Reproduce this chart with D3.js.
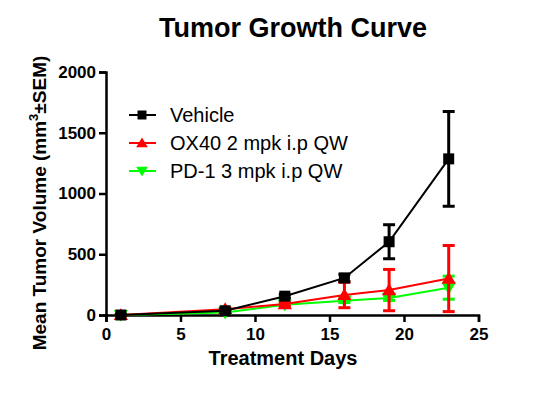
<!DOCTYPE html>
<html>
<head>
<meta charset="utf-8">
<script src="https://cdn.jsdelivr.net/npm/d3@7"></script>
<style>
  body { margin: 0; background: #fff; }
  svg { font-family: "Liberation Sans", Arial, sans-serif; }
</style>
</head>
<body>
<svg id="chart" width="539" height="415"></svg>
<script>
// data
var days = [1, 8, 12, 16, 19, 23]
var vehicleMean = [0, 35, 155, 305, 603, 1285]
var vehicleSem = [5, 12, 15, 30, 140, 390]
var ox40Mean = [0, 48, 90, 165, 205, 300]
var ox40Sem = [3, 10, 15, 105, 170, 272]
var pd1Mean = [0, 20, 85, 118, 140, 225]
var pd1Sem = [2, 5, 10, 15, 20, 95]
var xTicks = [0, 5, 10, 15, 20, 25]
var yTicks = [0, 500, 1000, 1500, 2000]

var series = [
  { name: "Vehicle", mean: vehicleMean, sem: vehicleSem, color: "#000000", marker: "square" },
  { name: "OX40 2 mpk i.p QW", mean: ox40Mean, sem: ox40Sem, color: "#ff0000", marker: "up" },
  { name: "PD-1 3 mpk i.p QW", mean: pd1Mean, sem: pd1Sem, color: "#00ff00", marker: "down" }
]

var svg = d3.select("#chart"),
    margin = {top: 72, left: 106}

var x = d3.scaleLinear().domain([0, 25]).range([0, 372.5])
var y = d3.scaleLinear().domain([0, 2000]).range([243, 0])

var g = svg.append("g")
  .attr("transform", "translate(" + margin.left + "," + margin.top + ")")

// title
svg.append("text")
  .attr("x", 293).attr("y", 37)
  .attr("text-anchor", "middle")
  .style("font-size", "27px").style("font-weight", "bold")
  .text("Tumor Growth Curve")

// axes
var xAxis = g.append("g")
  .attr("transform", "translate(0,243)")
  .call(d3.axisBottom(x).tickValues(xTicks).tickFormat(d3.format("d")).tickSize(7).tickPadding(6))
var yAxis = g.append("g")
  .call(d3.axisLeft(y).tickValues(yTicks).tickFormat(d3.format("d")).tickSize(7).tickPadding(3))

;[xAxis, yAxis].forEach(function(a) {
  a.select(".domain").attr("stroke", "#000").attr("stroke-width", 2.5)
  a.selectAll(".tick line").attr("stroke", "#000").attr("stroke-width", 2.5)
  a.selectAll("text")
    .attr("fill", "#000")
    .style("font-size", "17px")
    .style("font-weight", "bold")
    .style("font-family", "'Liberation Sans', Arial, sans-serif")
})

svg.append("text")
  .attr("x", 283).attr("y", 365)
  .attr("text-anchor", "middle")
  .style("font-size", "20px").style("font-weight", "bold")
  .text("Treatment Days")

var ylab = svg.append("text")
  .attr("transform", "translate(46,203) rotate(-90)")
  .attr("text-anchor", "middle")
  .style("font-size", "19px").style("font-weight", "bold")
ylab.append("tspan").text("Mean Tumor Volume (mm")
ylab.append("tspan").attr("dy", -8).style("font-size", "13px").text("3")
ylab.append("tspan").attr("dy", 8).text("±SEM)")

function markerPath(type, size) {
  if (type == "square") return d3.symbol().type(d3.symbolSquare).size(size * size)()
  var s = size * 0.62
  if (type == "up") return "M0," + (-s) + "L" + (s * 1.05) + "," + (s * 0.75) + "L" + (-s * 1.05) + "," + (s * 0.75) + "Z"
  return "M0," + s + "L" + (s * 1.05) + "," + (-s * 0.75) + "L" + (-s * 1.05) + "," + (-s * 0.75) + "Z"
}

var line = d3.line()
  .x(function(d) { return x(d.day) })
  .y(function(d) { return y(d.mean) })

// draw green, red, then black on top
series.slice().reverse().forEach(function(s) {
  var pts = days.map(function(d, i) { return { day: d, mean: s.mean[i], sem: s.sem[i] } })
  var sg = g.append("g")

  sg.append("path")
    .datum(pts)
    .attr("fill", "none")
    .attr("stroke", s.color)
    .attr("stroke-width", 2)
    .attr("d", line)

  var eb = sg.selectAll(".err")
    .data(pts)
    .enter().append("g")
    .attr("stroke", s.color)
    .attr("stroke-width", 3)
  eb.append("line")
    .attr("x1", function(d) { return x(d.day) })
    .attr("x2", function(d) { return x(d.day) })
    .attr("y1", function(d) { return y(d.mean + d.sem) })
    .attr("y2", function(d) { return y(Math.max(0, d.mean - d.sem)) })
  eb.append("line")
    .attr("x1", function(d) { return x(d.day) - 6 })
    .attr("x2", function(d) { return x(d.day) + 6 })
    .attr("y1", function(d) { return y(d.mean + d.sem) })
    .attr("y2", function(d) { return y(d.mean + d.sem) })
  eb.append("line")
    .attr("x1", function(d) { return x(d.day) - 6 })
    .attr("x2", function(d) { return x(d.day) + 6 })
    .attr("y1", function(d) { return y(Math.max(0, d.mean - d.sem)) })
    .attr("y2", function(d) { return y(Math.max(0, d.mean - d.sem)) })

  sg.selectAll(".pt")
    .data(pts)
    .enter().append("path")
    .attr("transform", function(d) { return "translate(" + x(d.day) + "," + y(d.mean) + ")" })
    .attr("d", markerPath(s.marker, 11))
    .attr("fill", s.color)
})

// legend
var legend = svg.append("g")
series.forEach(function(s, i) {
  var ly = 115 + i * 28
  legend.append("line")
    .attr("x1", 129).attr("x2", 156)
    .attr("y1", ly).attr("y2", ly)
    .attr("stroke", s.color).attr("stroke-width", 2)
  legend.append("path")
    .attr("transform", "translate(142," + ly + ")")
    .attr("d", markerPath(s.marker, 9))
    .attr("fill", s.color)
  legend.append("text")
    .attr("x", 170).attr("y", ly)
    .attr("dy", "0.35em")
    .style("font-size", "20px")
    .text(s.name)
})
</script>
</body>
</html>
